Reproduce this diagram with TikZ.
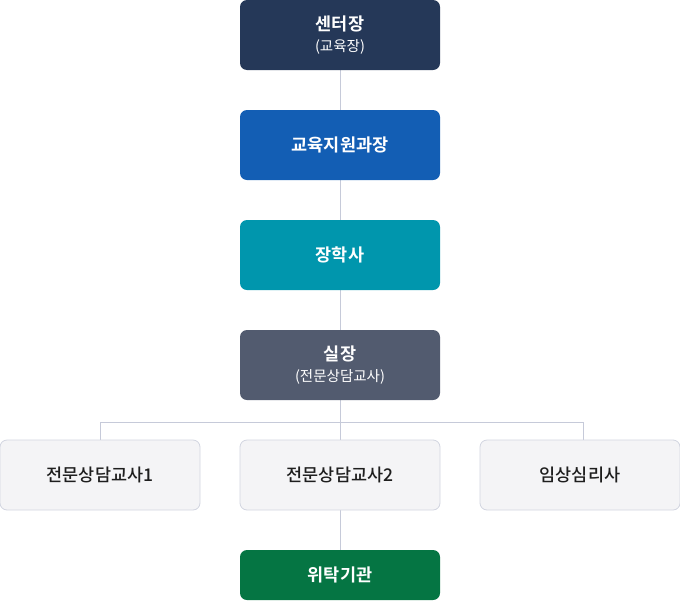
\documentclass[tikz,border=0pt]{standalone}
\usepackage{fontspec}
\setmainfont{Noto Sans CJK KR}[BoldFont={Noto Sans CJK KR Bold}]
\newfontfamily\krmedium{Noto Sans CJK KR Medium}
\definecolor{cnavy}{HTML}{253858}
\definecolor{cblue}{HTML}{135EB4}
\definecolor{cteal}{HTML}{0096AD}
\definecolor{cslate}{HTML}{525B6F}
\definecolor{cgreen}{HTML}{057543}
\definecolor{clight}{HTML}{F4F4F6}
\definecolor{cborder}{HTML}{D2D5E0}
\definecolor{cline}{HTML}{C6CAD9}
\definecolor{ctext}{HTML}{1E1E1E}
\tikzset{
  box/.style={rounded corners=7pt, minimum width=200pt, minimum height=70pt, inner sep=0pt, align=center, text=white, font=\fontsize{17.5}{21}\selectfont\bfseries},
  lightbox/.style={box, fill=clight, draw=cborder, line width=0.8pt, text=ctext, font=\fontsize{17.5}{21}\selectfont\krmedium},
  conn/.style={draw=cline, line width=1pt}
}
\newcommand{\subtxt}[1]{{\normalfont\fontsize{14.5}{17}\selectfont #1}}
\begin{document}
\begin{tikzpicture}[x=1pt,y=-1pt]
\useasboundingbox (0,0) rectangle (680,600);
\draw[conn] (340,35) -- (340,575);
\coordinate (hl) at (100,422);
\coordinate (hr) at (583,422);
\draw[conn] (100,475) -- (hl) -- (hr) -- (583,475);
\node[box, fill=cnavy] (a) at (340,35) {센터장\\[0pt]\subtxt{(교육장)}};
\node[box, fill=cblue] (b) at (340,145) {교육지원과장};
\node[box, fill=cteal] (c) at (340,255) {장학사};
\node[box, fill=cslate] (d) at (340,365) {실장\\[0pt]\subtxt{(전문상담교사)}};
\node[lightbox] (e1) at (100,475) {전문상담교사1};
\node[lightbox] (e2) at (340,475) {전문상담교사2};
\node[lightbox] (e3) at (580,475) {임상심리사};
\node[box, fill=cgreen, minimum height=50pt] (f) at (340,575) {위탁기관};
\end{tikzpicture}
\end{document}
